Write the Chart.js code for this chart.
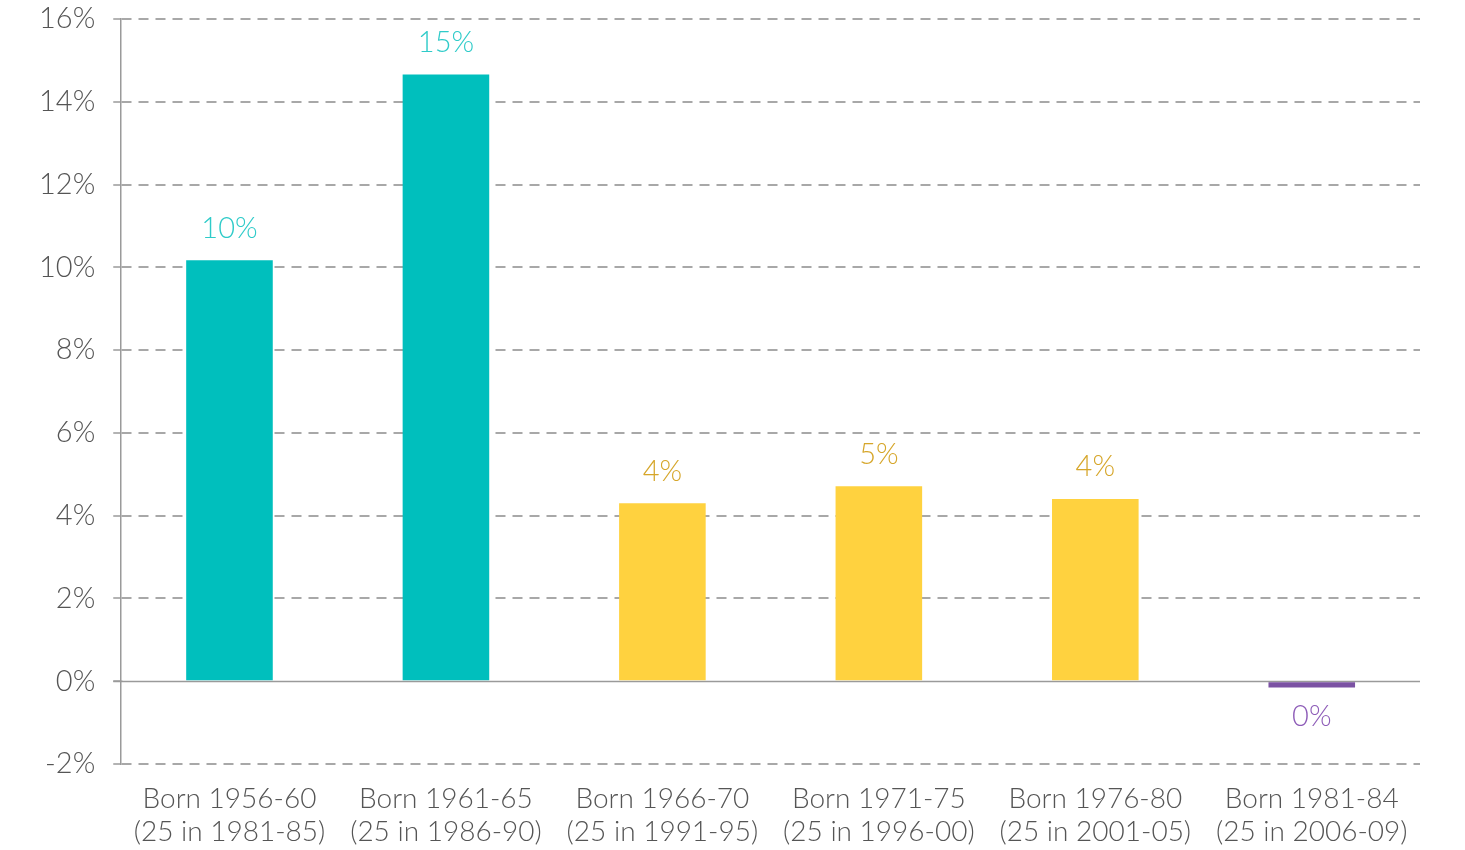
<!DOCTYPE html>
<html>
<head>
<meta charset="utf-8">
<script src="https://cdn.jsdelivr.net/npm/chart.js@4"></script>
<style>
  body { margin: 0; background: #fff; }
  #wrap { width: 1465px; height: 850px; position: relative; }
</style>
</head>
<body>
<div id="wrap"><canvas id="cohort-chart"></canvas></div>
<script>
// categories (two-line labels)
const cohorts = [
  ["Born 1956-60", "(25 in 1981-85)"],
  ["Born 1961-65", "(25 in 1986-90)"],
  ["Born 1966-70", "(25 in 1991-95)"],
  ["Born 1971-75", "(25 in 1996-00)"],
  ["Born 1976-80", "(25 in 2001-05)"],
  ["Born 1981-84", "(25 in 2006-09)"]
];
// values in %
const values = [10.17, 14.66, 4.30, 4.71, 4.40, -0.15];
const valueLabels = ["10%", "15%", "4%", "5%", "4%", "0%"];
const barColors = ["#00BFBD", "#00BFBD", "#FFD23F", "#FFD23F", "#FFD23F", "#7B52A3"];
const labelColors = ["#2FCBC9", "#2FCBC9", "#D6A62A", "#D6A62A", "#D6A62A", "#8E5DB8"];

const FONT = "Lato, 'Open Sans', sans-serif";

// solid zero line drawn over the dashed grid
const zeroLine = {
  id: "zeroLine",
  beforeDatasetsDraw(chart) {
    const { ctx, chartArea, scales } = chart;
    const y = Math.round(scales.y.getPixelForValue(0)) + 0.5;
    ctx.save();
    ctx.strokeStyle = "#ffffff";
    ctx.lineWidth = 4;
    ctx.beginPath();
    ctx.moveTo(chartArea.left + 1, y);
    ctx.lineTo(chartArea.right, y);
    ctx.stroke();
    ctx.strokeStyle = "#9a9a9a";
    ctx.lineWidth = 1.5;
    ctx.beginPath();
    ctx.moveTo(chartArea.left - 8, y);
    ctx.lineTo(chartArea.right, y);
    ctx.stroke();
    ctx.restore();
  }
};

// value labels above / below bars
const barLabels = {
  id: "barLabels",
  afterDatasetsDraw(chart) {
    const { ctx } = chart;
    const meta = chart.getDatasetMeta(0);
    ctx.save();
    ctx.font = "300 29px " + FONT;
    ctx.textAlign = "center";
    ctx.textBaseline = "middle";
    meta.data.forEach((bar, i) => {
      ctx.fillStyle = labelColors[i];
      if (values[i] >= 0) {
        ctx.fillText(valueLabels[i], bar.x, bar.y - 32);
      } else {
        ctx.fillText(valueLabels[i], bar.x, bar.y + 29);
      }
    });
    ctx.restore();
  }
};

new Chart(document.getElementById("cohort-chart"), {
  type: "bar",
  data: {
    labels: cohorts,
    datasets: [{
      data: values,
      backgroundColor: barColors,
      borderWidth: 0,
      barPercentage: 0.4,
      categoryPercentage: 1.0
    }]
  },
  options: {
    responsive: true,
    maintainAspectRatio: false,
    animation: false,
    layout: { padding: { top: 19, right: 45, bottom: 0, left: 21 } },
    plugins: {
      legend: { display: false },
      tooltip: { enabled: false }
    },
    scales: {
      x: {
        afterFit: (scale) => { scale.height = 86; },
        grid: { display: false, drawTicks: false },
        border: { display: false },
        ticks: {
          color: "#555",
          font: { family: FONT, size: 28, weight: "300", lineHeight: 1.2 },
          padding: 18,
          maxRotation: 0,
          autoSkip: false
        }
      },
      y: {
        min: -2,
        max: 16,
        afterFit: (scale) => { scale.paddingTop = 0; scale.paddingBottom = 0; },
        ticks: {
          stepSize: 2,
          color: "#555",
          padding: 18,
          font: { family: FONT, size: 29, weight: "300" },
          callback: (v) => v + "%"
        },
        grid: {
          color: "#a8a8a8",
          lineWidth: 2,
          tickLength: 8,
          tickColor: "#9a9a9a",
          tickWidth: 1.5,
          tickBorderDash: []
        },
        border: {
          display: true,
          color: "#9a9a9a",
          width: 1.5,
          dash: [10, 7]
        }
      }
    }
  },
  plugins: [zeroLine, barLabels]
});
</script>
</body>
</html>
